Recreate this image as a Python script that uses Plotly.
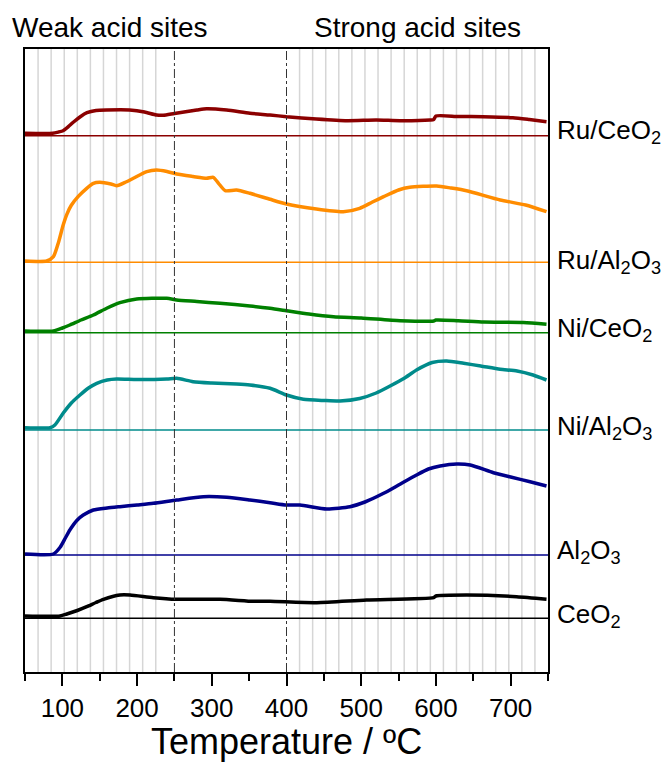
import plotly.graph_objects as go

# ---------------- data (temperature in ºC, signal in a.u. above each baseline) --------------
ru_ceo2_T = [50, 87, 95, 101, 108, 115, 124, 133, 145, 159, 190, 210, 226, 235, 250, 280, 293, 320, 351, 378, 400, 440, 481, 520, 552, 592, 597, 600, 630, 663, 703, 725, 748]
ru_ceo2_v = [2.4, 2.4, 3.7, 5.0, 9.0, 13.7, 19.0, 23.0, 25.2, 25.7, 25.7, 23.7, 20.7, 20.4, 22.2, 25.7, 27.0, 25.7, 22.4, 20.7, 19.0, 16.7, 15.0, 15.7, 15.0, 15.7, 16.2, 19.7, 19.2, 19.0, 18.0, 16.2, 14.0]

ru_al2o3_T = [50, 79, 88, 95, 101, 106, 112, 121, 132.6, 141.5, 150, 165, 172.7, 185, 195, 213, 226, 240, 253, 275, 293, 302, 309, 318, 333, 351, 378, 400, 440, 476, 498, 515, 530, 550, 565, 601, 620, 641, 686, 720, 748]
ru_al2o3_v = [1.3, 1.3, 5.6, 20.3, 37.0, 48.0, 57.0, 65.6, 74.0, 79.0, 80.0, 78.3, 76.6, 80.3, 84.0, 90.6, 92.3, 90.8, 88.3, 85.8, 84.0, 85.0, 79.0, 71.6, 72.3, 69.0, 63.0, 58.3, 53.3, 50.6, 54.0, 60.3, 65.6, 72.3, 75.0, 76.3, 74.3, 71.6, 62.3, 57.3, 50.6]

ni_ceo2_T = [50, 88, 100, 110, 125, 141.5, 160, 177, 199.5, 239.7, 253, 280, 311, 351, 378, 400, 430, 463, 500, 552, 597, 600, 630, 664, 717, 748]
ni_ceo2_v = [1.7, 1.7, 4.7, 7.7, 12.7, 17.7, 24.7, 30.0, 33.7, 34.4, 32.7, 31.2, 29.4, 26.7, 24.4, 22.0, 18.7, 16.0, 14.7, 12.0, 11.7, 12.7, 12.0, 10.7, 10.2, 8.4]

ni_al2o3_T = [50, 83.5, 90, 101, 112, 123.6, 135, 146, 160, 172.7, 200, 239.7, 253, 275, 300, 333, 351, 378, 400, 422.6, 450, 471.7, 498, 520, 538.6, 557, 574, 595, 614.5, 637, 660, 686, 708.6, 730, 748]
ni_al2o3_v = [2.3, 2.3, 5.0, 16.7, 27.0, 35.0, 42.0, 46.7, 50.0, 51.0, 50.5, 51.0, 51.7, 48.3, 47.0, 46.0, 45.0, 41.7, 35.0, 30.7, 29.5, 29.0, 31.5, 37.0, 44.0, 51.5, 60.0, 67.5, 69.0, 66.7, 64.0, 60.7, 59.0, 55.0, 50.0]

al2o3_T = [50, 88, 97, 104, 110, 120, 128, 141.5, 160, 177, 200, 221.7, 253, 288.7, 320, 351, 378, 400, 418, 454, 485, 505, 530, 550, 574, 590, 605.6, 628, 646, 677, 700, 726, 748]
al2o3_v = [1.0, 1.0, 7.7, 17.0, 25.0, 35.0, 40.0, 45.0, 47.0, 48.3, 50.0, 51.7, 55.0, 58.3, 57.7, 55.0, 52.3, 50.0, 50.0, 46.0, 48.3, 53.0, 61.7, 70.0, 80.0, 86.0, 89.0, 91.0, 90.0, 82.3, 78.0, 73.3, 69.0]

ceo2_T = [50, 97, 106, 120, 132.6, 145, 155, 177, 190.6, 221.7, 253, 311, 355.6, 378, 440.5, 507, 597, 600, 641, 708, 748]
ceo2_v = [2.3, 2.3, 4.3, 7.8, 11.6, 15.8, 19.0, 23.3, 23.3, 20.6, 19.0, 19.0, 17.0, 17.0, 15.6, 18.3, 20.6, 22.3, 23.3, 21.6, 19.0]

labels = ["Ru/CeO<sub>2</sub>", "Ru/Al<sub>2</sub>O<sub>3</sub>", "Ni/CeO<sub>2</sub>",
          "Ni/Al<sub>2</sub>O<sub>3</sub>", "Al<sub>2</sub>O<sub>3</sub>", "CeO<sub>2</sub>"]
offsets = [536.3, 409.7, 339.3, 242.0, 117.0, 53.7]   # vertical stacking offsets (a.u.)
label_dy = [4.7, 0.7, 3.2, 2.3, 4.0, 3.3]
colors = ["#8B0000", "#FF8C00", "#008000", "#008B8B", "#00008B", "#000000"]

series_T = [ru_ceo2_T, ru_al2o3_T, ni_ceo2_T, ni_al2o3_T, al2o3_T, ceo2_T]
series_v = [ru_ceo2_v, ru_al2o3_v, ni_ceo2_v, ni_al2o3_v, al2o3_v, ceo2_v]

x_min, x_max = 50, 750
y_min, y_max = 0, 623
region_bounds = [250, 400]
grid_lines = [50 + 17.5 * k for k in list(range(1, 11)) + list(range(21, 40))]

FONT = "Liberation Sans, Arial, sans-serif"

fig = go.Figure()

for T, v, off, col in zip(series_T, series_v, offsets, colors):
    # baseline
    fig.add_trace(go.Scatter(x=[x_min, x_max], y=[off, off], mode="lines",
                             line=dict(color=col, width=1.5), showlegend=False, hoverinfo="skip"))
    fig.add_trace(go.Scatter(x=T, y=[off + s for s in v], mode="lines",
                             line=dict(color=col, width=3.5, shape="spline", smoothing=0.6),
                             showlegend=False))

shapes = []
for g in grid_lines:
    shapes.append(dict(type="line", xref="x", yref="paper", x0=g, x1=g, y0=0, y1=1,
                       line=dict(color="#d6d6d6", width=1.5), layer="below"))
for b in region_bounds:
    shapes.append(dict(type="line", xref="x", yref="paper", x0=b, x1=b, y0=0, y1=1,
                       line=dict(color="#333333", width=1, dash="dashdot"), layer="above"))

annotations = [
    dict(text="Weak acid sites", x=163.8, xref="x", y=1.034, yref="paper",
         showarrow=False, xanchor="center", yanchor="middle",
         font=dict(family=FONT, size=28, color="black")),
    dict(text="Strong acid sites", x=575.4, xref="x", y=1.034, yref="paper",
         showarrow=False, xanchor="center", yanchor="middle",
         font=dict(family=FONT, size=28, color="black")),
]
for lab, off, dy in zip(labels, offsets, label_dy):
    annotations.append(dict(text=lab, x=1.0135, xref="paper", y=off + dy, yref="y",
                            showarrow=False, xanchor="left", yanchor="middle",
                            font=dict(family=FONT, size=26, color="black")))

fig.update_layout(
    width=664, height=762,
    margin=dict(l=25, r=116, t=49, b=90),
    plot_bgcolor="white", paper_bgcolor="white",
    shapes=shapes, annotations=annotations,
    xaxis=dict(range=[x_min, x_max], tickvals=[100, 200, 300, 400, 500, 600, 700],
               ticks="outside", ticklen=12, tickwidth=2, tickcolor="black",
               minor=dict(tickvals=[50, 150, 250, 350, 450, 550, 650, 750], ticks="outside",
                          ticklen=7, tickwidth=2, tickcolor="black", showgrid=False),
               showline=True, linewidth=2, linecolor="black", mirror=True,
               showgrid=False, zeroline=False, automargin=False,
               tickfont=dict(family=FONT, size=26, color="black"),
               title=dict(text="Temperature / ºC", standoff=12,
                          font=dict(family=FONT, size=36, color="black"))),
    yaxis=dict(range=[y_min, y_max], showticklabels=False, ticks="",
               showline=True, linewidth=2, linecolor="black", mirror=True,
               showgrid=False, zeroline=False, automargin=False),
)

fig.write_html("out.html")
